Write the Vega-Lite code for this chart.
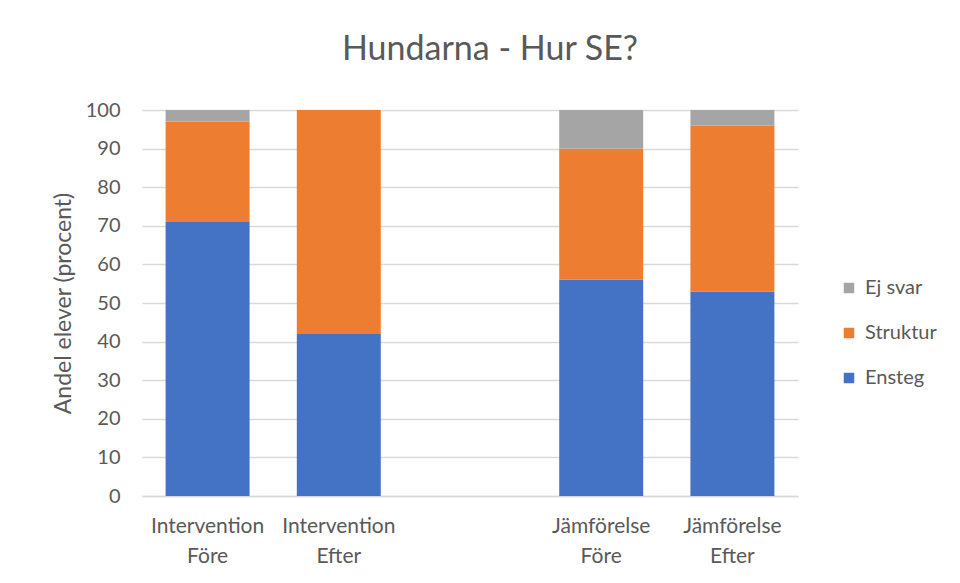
{
  "$schema": "https://vega.github.io/schema/vega-lite/v6.json",
  "width": 656,
  "height": 386,
  "autosize": {"type": "none"},
  "padding": {"left": 142, "top": 110, "right": 162, "bottom": 87},
  "background": "white",
  "title": {
    "text": "Hundarna - Hur SE?",
    "font": "Lato",
    "fontSize": 34,
    "fontWeight": "normal",
    "color": "#595959",
    "anchor": "middle",
    "baseline": "alphabetic",
    "offset": 6,
    "dx": 20
  },
  "data": {
    "values": [
      {"kategori": "Intervention Före", "serie": "Ensteg", "ord": 1, "andel": 71},
      {"kategori": "Intervention Före", "serie": "Struktur", "ord": 2, "andel": 26},
      {"kategori": "Intervention Före", "serie": "Ej svar", "ord": 3, "andel": 3},
      {"kategori": "Intervention Efter", "serie": "Ensteg", "ord": 1, "andel": 42},
      {"kategori": "Intervention Efter", "serie": "Struktur", "ord": 2, "andel": 58},
      {"kategori": "Intervention Efter", "serie": "Ej svar", "ord": 3, "andel": 0},
      {"kategori": "Jämförelse Före", "serie": "Ensteg", "ord": 1, "andel": 56},
      {"kategori": "Jämförelse Före", "serie": "Struktur", "ord": 2, "andel": 34},
      {"kategori": "Jämförelse Före", "serie": "Ej svar", "ord": 3, "andel": 10},
      {"kategori": "Jämförelse Efter", "serie": "Ensteg", "ord": 1, "andel": 53},
      {"kategori": "Jämförelse Efter", "serie": "Struktur", "ord": 2, "andel": 43},
      {"kategori": "Jämförelse Efter", "serie": "Ej svar", "ord": 3, "andel": 4}
    ]
  },
  "mark": {"type": "bar"},
  "encoding": {
    "x": {
      "field": "kategori",
      "type": "nominal",
      "scale": {
        "domain": ["Intervention Före", "Intervention Efter", "", "Jämförelse Före", "Jämförelse Efter"],
        "paddingInner": 0.36,
        "paddingOuter": 0.18
      },
      "axis": {
        "title": null,
        "labelAngle": 0,
        "labelExpr": "split(datum.label, ' ')",
        "labelFont": "Lato",
        "labelFontSize": 21,
        "labelColor": "#595959",
        "labelLineHeight": 30,
        "labelPadding": 19,
        "ticks": false,
        "domainColor": "#d9d9d9",
        "domainWidth": 1.5,
        "grid": false
      }
    },
    "y": {
      "field": "andel",
      "type": "quantitative",
      "stack": "zero",
      "scale": {"domain": [0, 100], "nice": false},
      "axis": {
        "title": "Andel elever (procent)",
        "titleFont": "Lato",
        "titleFontSize": 23,
        "titleFontWeight": "normal",
        "titleColor": "#595959",
        "titlePadding": 10,
        "values": [0, 10, 20, 30, 40, 50, 60, 70, 80, 90, 100],
        "labelFont": "Lato",
        "labelFontSize": 20,
        "labelColor": "#595959",
        "labelPadding": 22,
        "ticks": false,
        "domain": false,
        "grid": true,
        "gridColor": "#d9d9d9",
        "gridWidth": 1.5
      }
    },
    "color": {
      "field": "serie",
      "type": "nominal",
      "scale": {
        "domain": ["Ej svar", "Struktur", "Ensteg"],
        "range": ["#A5A5A5", "#ED7D31", "#4472C4"]
      },
      "legend": {
        "title": null,
        "orient": "none",
        "legendX": 697,
        "legendY": 168,
        "symbolType": "square",
        "symbolSize": 110,
        "symbolStrokeWidth": 0,
        "labelFont": "Lato",
        "labelFontSize": 20,
        "labelColor": "#595959",
        "labelOffset": 6,
        "rowPadding": 25
      }
    },
    "order": {"field": "ord", "type": "quantitative"}
  },
  "config": {
    "view": {"stroke": null}
  }
}
